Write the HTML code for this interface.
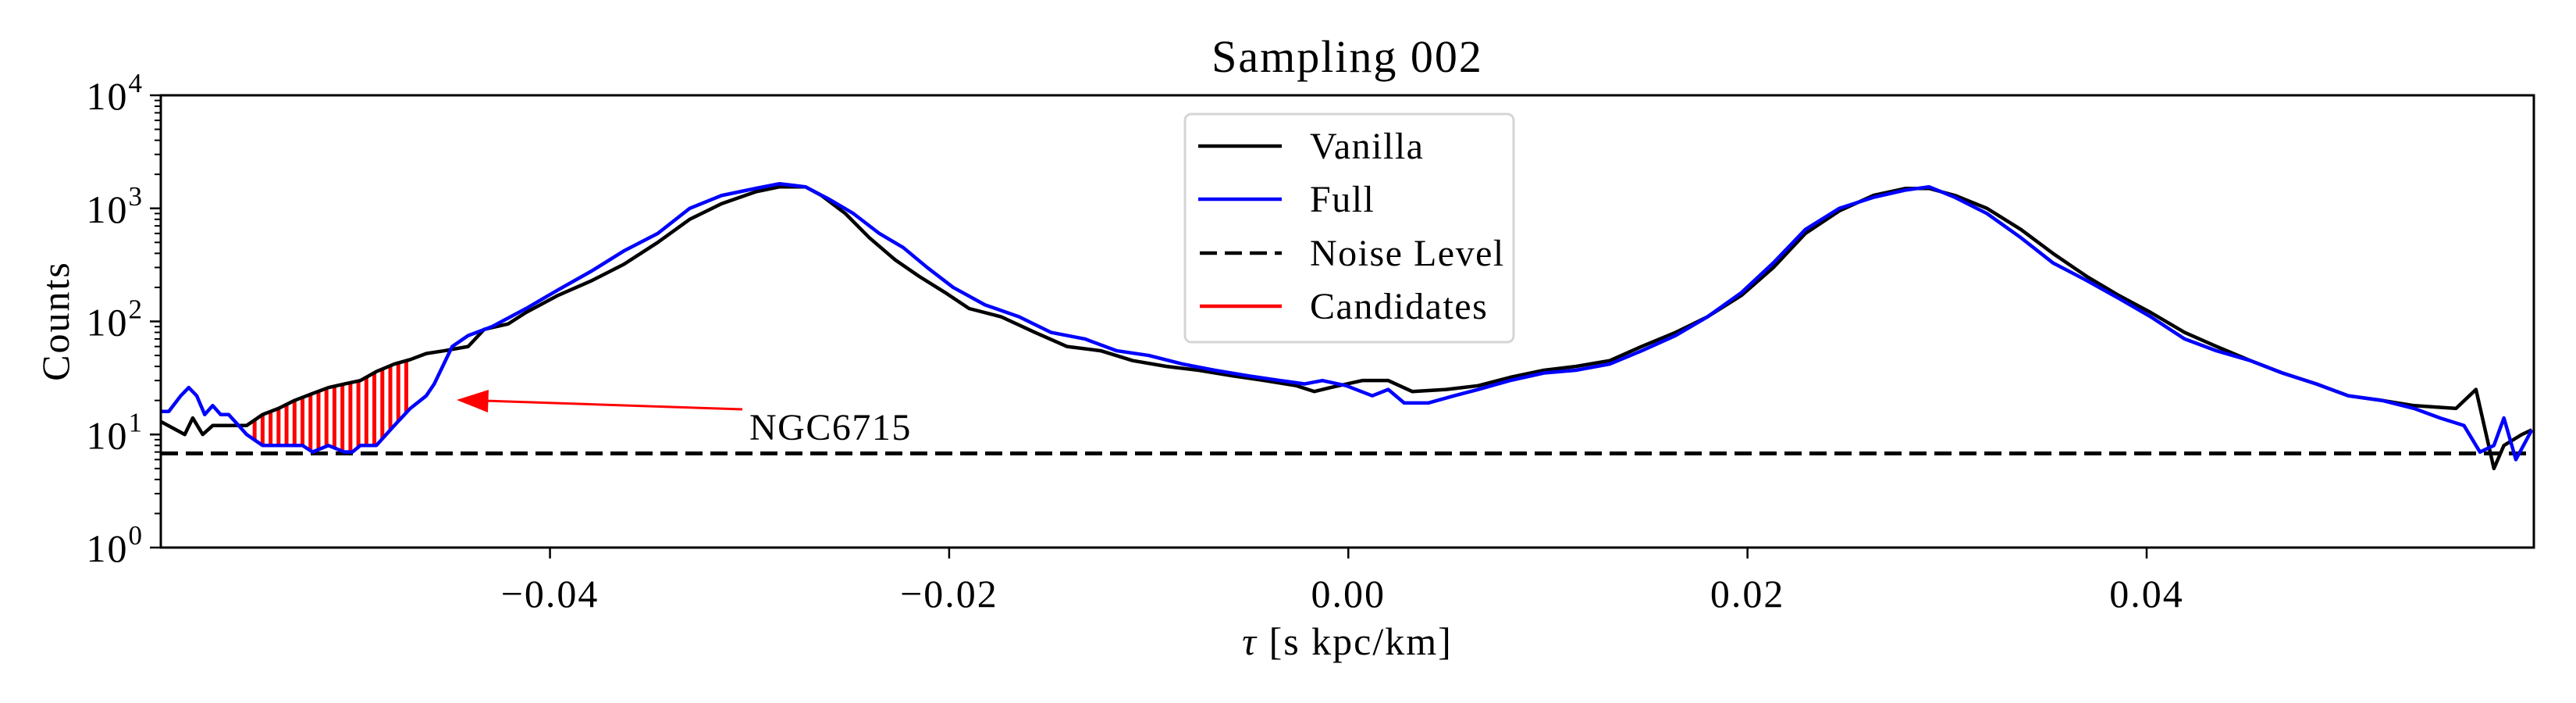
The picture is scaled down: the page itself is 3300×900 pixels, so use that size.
<!DOCTYPE html>
<html><head><meta charset="utf-8">
<style>
html,body{margin:0;padding:0;background:#fff;}
svg{display:block;font-family:"Liberation Serif","DejaVu Serif",serif;}
</style></head>
<body>
<svg id="chart" width="3300" height="900" viewBox="0 0 3300 900" xmlns="http://www.w3.org/2000/svg">
<text x="1726" y="92" font-size="58" letter-spacing="2" text-anchor="middle">Sampling 002</text>
<g id="plot"></g>
<g id="axes"></g>
<text x="1726" y="838" font-size="50" letter-spacing="2" text-anchor="middle"><tspan font-style="italic">τ</tspan> [s kpc/km]</text>
<text transform="translate(88,411) rotate(-90)" font-size="50" letter-spacing="2" text-anchor="middle">Counts</text>
<g>
<line x1="951" y1="524" x2="620" y2="513" stroke="#ff0000" stroke-width="3"/>
<polygon points="585,512 626,499 625,528" fill="#ff0000"/>
<text x="960" y="563" font-size="48" letter-spacing="1.5">NGC6715</text>
</g>
<g>
<rect x="1518" y="146" width="421" height="292" rx="8" fill="#fff" fill-opacity="0.8" stroke="#d5d5d5" stroke-width="3"/>
<line x1="1535" y1="187" x2="1642" y2="187" stroke="#000" stroke-width="4.5"/>
<text x="1678" y="203" font-size="48" letter-spacing="1.5">Vanilla</text>
<line x1="1535" y1="255" x2="1642" y2="255" stroke="#0000ff" stroke-width="4.5"/>
<text x="1678" y="271" font-size="48" letter-spacing="1.5">Full</text>
<line x1="1537" y1="324" x2="1642" y2="324" stroke="#000" stroke-width="4.5" stroke-dasharray="22,10"/>
<text x="1678" y="340" font-size="48" letter-spacing="1.5">Noise Level</text>
<line x1="1537" y1="392" x2="1642" y2="392" stroke="#ff0000" stroke-width="4.5"/>
<text x="1678" y="408" font-size="48" letter-spacing="1.5">Candidates</text>
</g>
</svg>
<script>
const vanillaTau = [-0.0595,-0.0583,-0.0579,-0.0574,-0.0569,-0.0552,-0.0544,-0.0536,-0.0528,-0.0519,-0.0511,-0.0503,-0.0495,-0.0487,-0.0478,-0.0470,-0.0462,-0.0453,-0.0441,-0.0433,-0.0421,-0.0412,-0.0396,-0.0379,-0.0363,-0.0346,-0.0330,-0.0314,-0.0297,-0.0285,-0.0272,-0.0264,-0.0252,-0.0240,-0.0227,-0.0215,-0.0202,-0.0190,-0.0174,-0.0157,-0.0141,-0.0124,-0.0108,-0.0091,-0.0075,-0.0058,-0.0042,-0.0026,-0.0017,-0.0009,0.0007,0.0020,0.0032,0.0049,0.0065,0.0081,0.0098,0.0114,0.0131,0.0147,0.0164,0.0180,0.0197,0.0213,0.0229,0.0246,0.0263,0.0279,0.0291,0.0304,0.0320,0.0337,0.0353,0.0370,0.0386,0.0402,0.0419,0.0435,0.0452,0.0468,0.0485,0.0501,0.0518,0.0534,0.0555,0.0565,0.0574,0.0579,0.0588,0.0593];
const vanillaCounts = [13,10,14,10,12,12,15,17,20,23,26,28,30,36,42,46,52,55,60,85,95,120,170,230,320,500,800,1100,1400,1550,1550,1300,900,550,350,250,180,130,110,80,60,55,45,40,37,33,30,27,24,26,30,30,24,25,27,32,37,40,45,60,80,110,170,300,600,950,1300,1500,1500,1300,1000,650,400,250,170,120,80,60,45,35,28,22,20,18,17,25,5,8,10,11];
const fullTau = [-0.0595,-0.0591,-0.0585,-0.0581,-0.0577,-0.0573,-0.0569,-0.0565,-0.0561,-0.0556,-0.0552,-0.0544,-0.0536,-0.0524,-0.0519,-0.0511,-0.0503,-0.0499,-0.0495,-0.0487,-0.0478,-0.0470,-0.0462,-0.0458,-0.0449,-0.0441,-0.0429,-0.0412,-0.0396,-0.0379,-0.0363,-0.0346,-0.0330,-0.0314,-0.0297,-0.0285,-0.0272,-0.0260,-0.0248,-0.0235,-0.0223,-0.0211,-0.0198,-0.0182,-0.0165,-0.0149,-0.0132,-0.0116,-0.0100,-0.0083,-0.0067,-0.0050,-0.0034,-0.0022,-0.0013,-0.0001,0.0012,0.0020,0.0028,0.0040,0.0053,0.0065,0.0081,0.0098,0.0114,0.0131,0.0147,0.0164,0.0180,0.0197,0.0213,0.0229,0.0246,0.0263,0.0279,0.0291,0.0304,0.0320,0.0337,0.0353,0.0370,0.0386,0.0402,0.0419,0.0435,0.0452,0.0468,0.0485,0.0501,0.0518,0.0534,0.0547,0.0559,0.0567,0.0574,0.0579,0.0585,0.0593];
const fullCounts = [16,16,22,26,22,15,18,15,15,12,10,8,8,8,7,8,7,7,8,8,12,17,22,28,60,75,90,130,190,280,420,600,1000,1300,1500,1650,1550,1200,900,600,450,300,200,140,110,80,70,55,50,42,37,33,30,28,30,27,22,25,19,19,22,25,30,35,37,42,55,75,110,180,330,650,1000,1250,1450,1550,1250,900,550,330,230,160,110,70,55,45,35,28,22,20,17,14,12,7,8,14,6,11];
const noiseLevel = [6.8];
const candidateTau = [-0.0548,-0.0544,-0.0540,-0.0536,-0.0532,-0.0528,-0.0524,-0.0520,-0.0516,-0.0512,-0.0508,-0.0504,-0.0500,-0.0496,-0.0492,-0.0488,-0.0484,-0.0480,-0.0476,-0.0472];
const xTickValues = [-0.04,-0.02,0.00,0.02,0.04];
const xTickLabels = ["\u22120.04","\u22120.02","0.00","0.02","0.04"];
const yTickExponents = [0,1,2,3,4];

const L=206,R=3246,T=122,B=701,XMIN=-0.0595,XMAX=0.0594,YMIN=0,YMAX=4;
const NS="http://www.w3.org/2000/svg";
function xs(t){return L+(t-XMIN)/(XMAX-XMIN)*(R-L);}
function ys(v){return B-(Math.log10(v)-YMIN)/(YMAX-YMIN)*(B-T);}
function mk(tag,attrs,parent){const e=document.createElementNS(NS,tag);for(const k in attrs)e.setAttribute(k,attrs[k]);parent.appendChild(e);return e;}
function interp(ta,ca,t){for(let i=0;i<ta.length-1;i++){if(t>=ta[i]&&t<=ta[i+1]){const f=(t-ta[i])/(ta[i+1]-ta[i]);return Math.pow(10,Math.log10(ca[i])+f*(Math.log10(ca[i+1])-Math.log10(ca[i])));}}return ca[ca.length-1];}

const plot=document.getElementById('plot');
const axes=document.getElementById('axes');
const defs=mk('defs',{},plot);
const cp=mk('clipPath',{id:'clip'},defs);
mk('rect',{x:L,y:T,width:R-L,height:B-T},cp);
const g=mk('g',{'clip-path':'url(#clip)'},plot);

candidateTau.forEach((t,i)=>{
  const a=interp(vanillaTau,vanillaCounts,t), b=interp(fullTau,fullCounts,t);
  const ln=mk('line',{x1:xs(t),x2:xs(t),y1:ys(Math.max(a,b)),y2:ys(Math.min(a,b)),stroke:'#ff0000','stroke-width':5},g);
  
  
});
const nl=mk('line',{x1:L,x2:R,y1:ys(noiseLevel[0]),y2:ys(noiseLevel[0]),stroke:'#000','stroke-width':5,'stroke-dasharray':'22,10'},g);


const pv=mk('polyline',{points:vanillaTau.map((t,i)=>xs(t)+','+ys(vanillaCounts[i])).join(' '),fill:'none',stroke:'#000','stroke-width':4.5,'stroke-linejoin':'round'},g);


const pf=mk('polyline',{points:fullTau.map((t,i)=>xs(t)+','+ys(fullCounts[i])).join(' '),fill:'none',stroke:'#0000ff','stroke-width':4.5,'stroke-linejoin':'round'},g);



const fr=mk('rect',{x:L,y:T,width:R-L,height:B-T,fill:'none',stroke:'#000','stroke-width':3},axes);


xTickValues.forEach((v,i)=>{
  const x=xs(v);
  const tk=mk('line',{x1:x,x2:x,y1:B,y2:B+14,stroke:'#000','stroke-width':2.5},axes);
  
  
  const tx=mk('text',{x:x,y:B+76,'font-size':50,'letter-spacing':2,'text-anchor':'middle'},axes);
  tx.textContent=xTickLabels[i];
  
  
});
yTickExponents.forEach((e,i)=>{
  const y=ys(Math.pow(10,e));
  const tk=mk('line',{x1:L-14,x2:L,y1:y,y2:y,stroke:'#000','stroke-width':2.5},axes);
  
  
  const tx=mk('text',{x:L-22,y:y+18,'font-size':50,'letter-spacing':2,'text-anchor':'end'},axes);
  tx.textContent='10';
  const sup=mk('tspan',{dy:-22,'font-size':35},tx);
  sup.textContent=String(e);
  
  
  if(i<yTickExponents.length-1){
    for(let m=2;m<=9;m++){
      const ym=ys(m*Math.pow(10,e));
      const mt=mk('line',{x1:L-8,x2:L,y1:ym,y2:ym,stroke:'#000','stroke-width':2},axes);
      
      
    }
  }
});
</script>
</body></html>
